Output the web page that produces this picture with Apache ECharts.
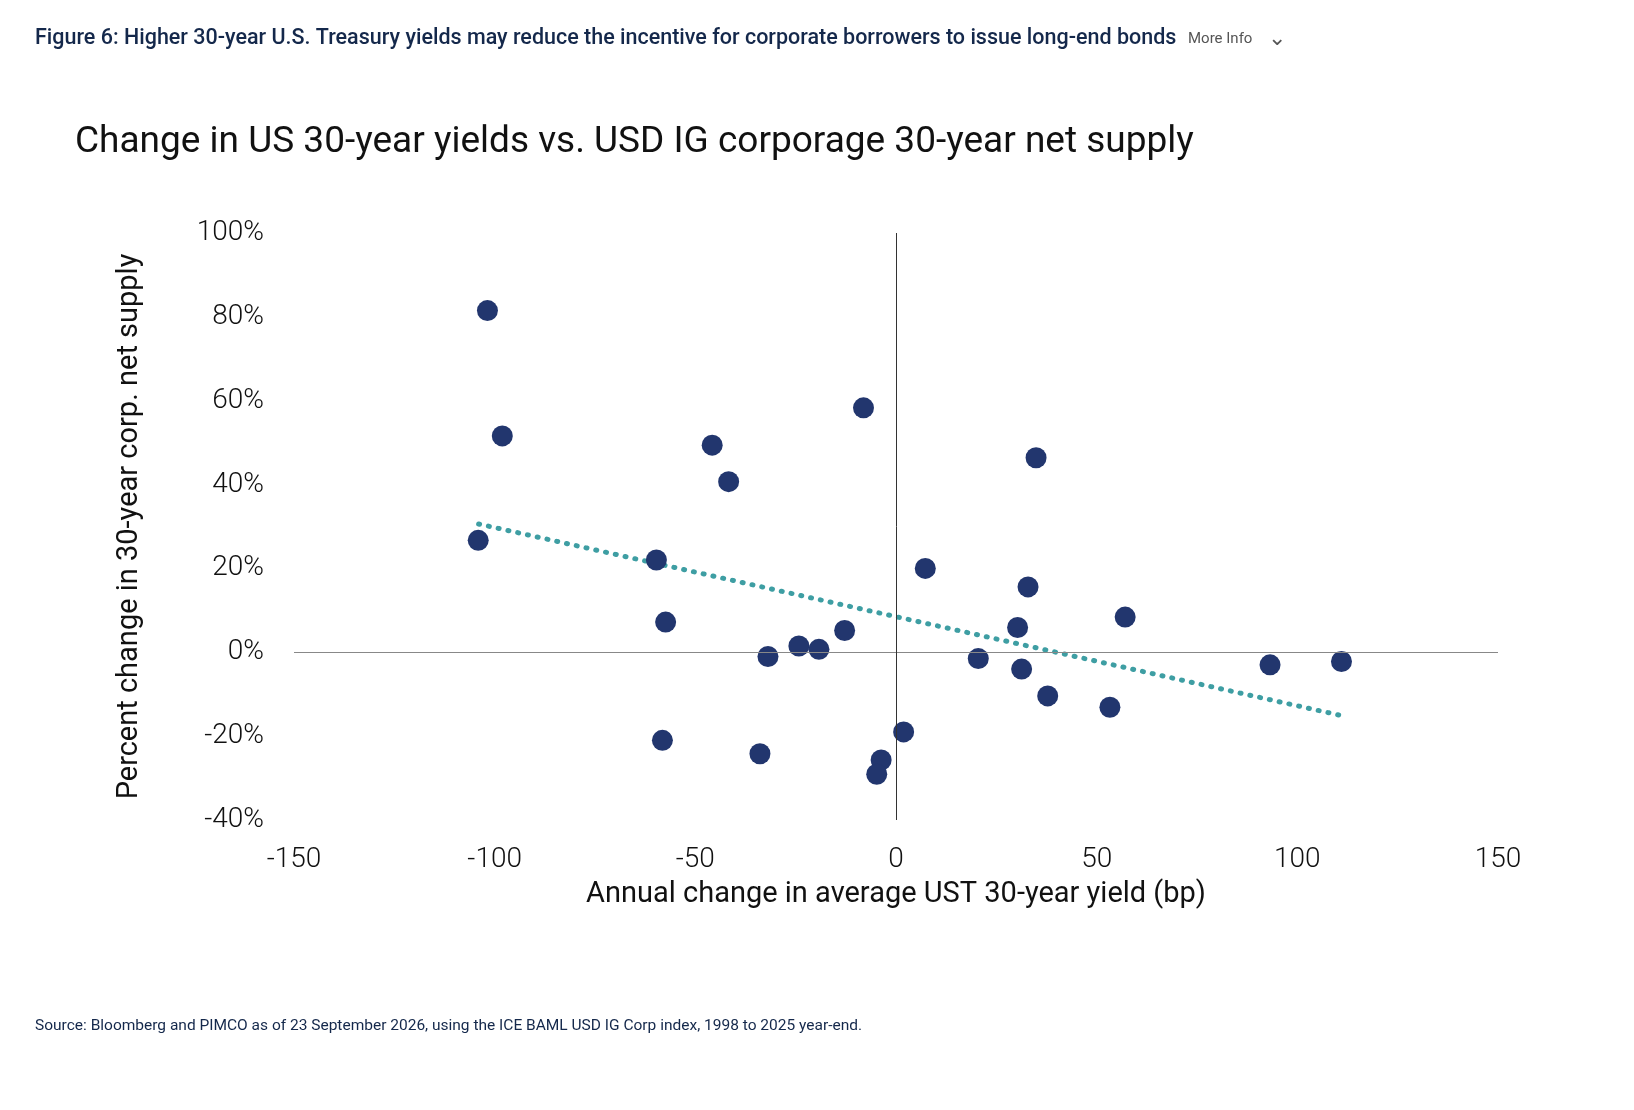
<!DOCTYPE html><html><head><meta charset="utf-8">
<script src="https://cdn.jsdelivr.net/npm/echarts@6/dist/echarts.min.js"></script>
<style>html,body{margin:0;padding:0;background:#fff}#c{width:1634px;height:1110px}</style>
</head><body><div id="c"></div><script>
const xChange=[-101.8,-98.1,-104.1,-45.8,-41.7,-8.1,34.9,-59.7,-57.4,7.3,32.9,57.1,30.3,-12.8,-24.2,-19.2,-31.9,20.5,31.3,93.2,111.0,37.8,53.3,-58.2,-33.9,1.9,-3.7,-4.8];
const ySupply=[81.5,51.6,26.7,49.4,40.7,58.3,46.4,22.0,7.2,20.0,15.6,8.4,5.9,5.2,1.5,0.7,-1.0,-1.5,-4.0,-3.0,-2.2,-10.4,-13.1,-21.0,-24.2,-19.0,-25.7,-29.1];
const trendX=[-104,111];
const trendY=[30.6,-15.1];
const points=xChange.map((x,i)=>[x,ySupply[i]]);
const chart=echarts.init(document.getElementById('c'));
const F='Roboto, sans-serif';
chart.setOption({
 animation:false,
 graphic:[
  {type:'text',left:35,top:28,style:{text:'Figure 6: Higher 30-year U.S. Treasury yields may reduce the incentive for corporate borrowers to issue long-end bonds',font:'500 21.5px Roboto',fill:'#14284b'}},
  {type:'text',left:1188,top:32,style:{text:'More Info',font:'15px Roboto',fill:'#555',textDecoration:'underline'}},
  {type:'text',left:1268,top:28,style:{text:'⌄',font:'22px Roboto',fill:'#555'}},
  {type:'text',left:75,top:124,style:{text:'Change in US 30-year yields vs. USD IG corporage 30-year net supply',font:'37px Roboto',fill:'#111'}},
  {type:'text',left:35,top:1018,style:{text:'Source: Bloomberg and PIMCO as of 23 September 2026, using the ICE BAML USD IG Corp index, 1998 to 2025 year-end.',font:'15.5px Roboto',fill:'#14284b'}}
 ],
 grid:{left:294,right:136,top:233,bottom:290,outerBoundsMode:'none'},
 xAxis:{type:'value',min:-150,max:150,interval:50,name:'Annual change in average UST 30-year yield (bp)',nameLocation:'middle',nameGap:60,
  nameTextStyle:{fontFamily:F,fontSize:29,color:'#111'},
  axisLine:{show:false},axisTick:{show:false},splitLine:{show:false},
  axisLabel:{fontFamily:F,fontSize:28,fontWeight:300,color:'#111',margin:26}},
 yAxis:{type:'value',min:-40,max:100,interval:20,name:'Percent change in 30-year corp. net supply',nameLocation:'middle',nameGap:150,
  nameTextStyle:{fontFamily:F,fontSize:29,color:'#111'},
  axisLine:{show:false},axisTick:{show:false},splitLine:{show:false},
  axisLabel:{fontFamily:F,fontSize:28,fontWeight:300,color:'#111',margin:30,formatter:'{value}%'}},
 series:[
  {type:'line',data:trendX.map((x,i)=>[x,trendY[i]]),symbol:'none',lineStyle:{color:'#3e9ea3',width:5,type:[1,9],cap:'round'},z:1,
   markLine:{silent:true,symbol:'none',label:{show:false},lineStyle:{type:'solid',width:1},
    data:[{yAxis:0,lineStyle:{color:'#888'}},{xAxis:0,lineStyle:{color:'#333'}}]}},
  {type:'scatter',data:points,symbolSize:21,itemStyle:{color:'#22366e',opacity:1},z:2}
 ]
});
</script></body></html>
